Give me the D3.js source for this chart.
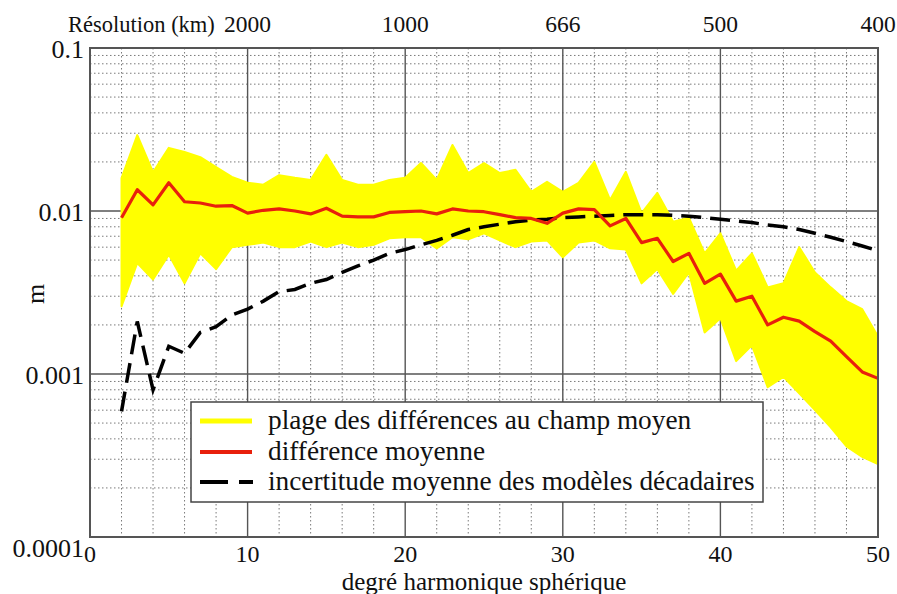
<!DOCTYPE html>
<html><head><meta charset="utf-8">
<script src="https://cdn.jsdelivr.net/npm/d3@7"></script>
</head><body style="margin:0;background:#fff">
<svg id="c" width="897" height="594" font-family="Liberation Serif, Tinos, serif" style="font-family:'Liberation Serif',Tinos,serif"></svg>
<script>
// ---------- data ----------
const degrees = [2,3,4,5,6,7,8,9,10,11,12,13,14,15,16,17,18,19,20,21,22,23,24,25,26,
  27,28,29,30,31,32,33,34,35,36,37,38,39,40,41,42,43,44,45,46,47,48,49,50];
// upper envelope of the range of differences to the mean field (m)
const upperBound = [0.0159,0.0292,0.0173,0.0244,0.0230,0.0214,0.0186,0.0162,0.0149,0.0145,
  0.0166,0.0160,0.0155,0.0221,0.0155,0.0145,0.0145,0.0155,0.0160,0.0197,0.0155,0.0254,
  0.0171,0.0197,0.0171,0.0179,0.0131,0.0151,0.0131,0.0149,0.0200,0.0117,0.0174,0.0097,
  0.0129,0.0086,0.0091,0.0055,0.0073,0.0043,0.0055,0.0034,0.0036,0.0060,0.0042,0.0034,
  0.0028,0.0025,0.0017];
// lower envelope
const lowerBound = [0.0026,0.0048,0.0038,0.0054,0.0036,0.0055,0.0044,0.0060,0.0062,0.0064,
  0.0060,0.0060,0.0065,0.0060,0.0064,0.0060,0.0062,0.0068,0.0069,0.0069,0.0059,0.0069,
  0.0067,0.0073,0.0066,0.0060,0.0065,0.0066,0.0052,0.0064,0.0066,0.0059,0.0058,0.0036,
  0.0044,0.0031,0.0042,0.0018,0.0022,0.0012,0.0015,0.00083,0.00096,0.00076,0.00060,
  0.00047,0.00036,0.00031,0.00028];
// mean difference
const meanDifference = [0.0091,0.0135,0.0109,0.0149,0.0114,0.0112,0.0107,0.0108,0.0097,
  0.0101,0.0103,0.0100,0.0096,0.0104,0.0093,0.0092,0.0092,0.0098,0.0099,0.0100,0.0096,
  0.0103,0.0100,0.0099,0.0095,0.0091,0.0090,0.0084,0.0097,0.0103,0.0102,0.0081,0.0090,
  0.0064,0.0068,0.0049,0.0055,0.0036,0.0041,0.0028,0.0030,0.0020,0.00223,0.00211,
  0.00182,0.00159,0.00128,0.00103,0.00094];
// mean uncertainty of the decadal models
const decadalUncertainty = [0.00059,0.0021,0.00080,0.00148,0.00134,0.0018,0.00195,0.0023,
  0.0025,0.0028,0.0032,0.0033,0.0036,0.0038,0.0042,0.0046,0.0050,0.0055,0.0058,0.0062,
  0.0066,0.0071,0.0077,0.0080,0.0083,0.0086,0.0088,0.0089,0.0091,0.0092,0.0093,0.0094,
  0.0095,0.0095,0.0095,0.0094,0.0093,0.0091,0.0089,0.0087,0.0085,0.0082,0.0080,0.0077,
  0.0073,0.0069,0.0065,0.0061,0.0057];

const xTicks = [0,10,20,30,40,50];
const yTicks = [0.1,0.01,0.001,0.0001];
const yTickLabels = ["0.1","0.01","0.001","0.0001"];
const topTickDegrees = [10,20,30,40,50];
const topTickLabels = ["2000","1000","666","500","400"];
const topAxisTitle = "Résolution (km)";
const xAxisTitle = "degré harmonique sphérique";
const yAxisTitle = "m";
const legendLabels = ["plage des différences au champ moyen","différence moyenne",
  "incertitude moyenne des modèles décadaires"];

// ---------- layout ----------
const svg = d3.select("#c");
const x = d3.scaleLinear().domain([0,50]).range([90,878]);
const y = d3.scaleLog().domain([1e-4,0.1]).range([537,48]);
const X0 = x.range()[0], X1 = x.range()[1], Y0 = y.range()[1], Y1 = y.range()[0];

function txt(sel){
  return sel.attr("font-family","Liberation Serif")
            .style("font-family","'Liberation Serif', Tinos, serif")
            .attr("fill","#111");
}

// grid
const g = svg.append("g");
const minorX = d3.range(0,51,2).filter(d => d % 10 !== 0);
const minorY = [];
[-4,-3,-2].forEach(e => { for (let k=2;k<=9;k++) minorY.push(k*Math.pow(10,e)); });
g.selectAll(".mx").data(minorX).join("line")
  .attr("x1",d=>x(d)).attr("x2",d=>x(d)).attr("y1",Y0).attr("y2",Y1)
  .attr("stroke","#7a7a7a").attr("stroke-width",1).attr("stroke-dasharray","1.5,2.5");
g.selectAll(".my").data(minorY).join("line")
  .attr("x1",X0).attr("x2",X1).attr("y1",d=>y(d)).attr("y2",d=>y(d))
  .attr("stroke","#7a7a7a").attr("stroke-width",1).attr("stroke-dasharray","1.5,2.5");
g.selectAll(".Mx").data([10,20,30,40]).join("line")
  .attr("x1",d=>x(d)).attr("x2",d=>x(d)).attr("y1",Y0).attr("y2",Y1)
  .attr("stroke","#555").attr("stroke-width",1.4);
g.selectAll(".My").data([0.01,0.001]).join("line")
  .attr("x1",X0).attr("x2",X1).attr("y1",d=>y(d)).attr("y2",d=>y(d))
  .attr("stroke","#555").attr("stroke-width",1.4);

// yellow band
const band = degrees.map((d,i)=>({d, lo:lowerBound[i], hi:upperBound[i]}));
svg.append("path").datum(band)
  .attr("d", d3.area().x(p=>x(p.d)).y0(p=>y(p.lo)).y1(p=>y(p.hi)))
  .attr("fill","#ffff00").attr("stroke","#ffff00").attr("stroke-width",2)
  .attr("stroke-linejoin","round");

// dashed uncertainty line
svg.append("path").datum(degrees.map((d,i)=>[d,decadalUncertainty[i]]))
  .attr("d", d3.line().x(p=>x(p[0])).y(p=>y(p[1])))
  .attr("fill","none").attr("stroke","#000").attr("stroke-width",3.5)
  .attr("stroke-dasharray","20,9");

// red mean line
svg.append("path").datum(degrees.map((d,i)=>[d,meanDifference[i]]))
  .attr("d", d3.line().x(p=>x(p[0])).y(p=>y(p[1])))
  .attr("fill","none").attr("stroke","#e8200c").attr("stroke-width",3.2)
  .attr("stroke-linejoin","round");

// frame
svg.append("rect").attr("x",X0).attr("y",Y0).attr("width",X1-X0).attr("height",Y1-Y0)
  .attr("fill","none").attr("stroke","#555").attr("stroke-width",2);

// bottom tick labels
txt(svg.selectAll(".xt").data(xTicks).join("text"))
  .attr("x",d=>x(d)).attr("y",561.5).attr("text-anchor","middle")
  .attr("font-size",24).text(d=>d);
txt(svg.append("text")).attr("x",(X0+X1)/2).attr("y",589.5).attr("text-anchor","middle")
  .attr("font-size",25).text(xAxisTitle);

// left tick labels
txt(svg.selectAll(".yt").data(yTicks).join("text"))
  .attr("x",84).attr("y",(d,i)=>y(d)+(i===yTicks.length-1?20:10))
  .attr("text-anchor","end").attr("font-size",26).text((d,i)=>yTickLabels[i]);
txt(svg.append("text")).attr("transform","translate(44,294) rotate(-90)")
  .attr("text-anchor","middle").attr("font-size",26).text(yAxisTitle);

// top axis
txt(svg.selectAll(".tt").data(topTickDegrees).join("text"))
  .attr("x",d=>x(d)).attr("y",32).attr("text-anchor","middle")
  .attr("font-size",23.5).text((d,i)=>topTickLabels[i]);
txt(svg.append("text")).attr("x",68).attr("y",32).attr("font-size",22.5).text(topAxisTitle);

// legend
const lg = svg.append("g");
lg.append("rect").attr("x",191).attr("y",402).attr("width",572).attr("height",100)
  .attr("fill","#fff").attr("stroke","#444").attr("stroke-width",1.5);
const ly = [421,452,482];
lg.append("line").attr("x1",200).attr("x2",252).attr("y1",ly[0]).attr("y2",ly[0])
  .attr("stroke","#ffff00").attr("stroke-width",5);
lg.append("line").attr("x1",200).attr("x2",252).attr("y1",ly[1]).attr("y2",ly[1])
  .attr("stroke","#e8200c").attr("stroke-width",4);
lg.append("line").attr("x1",200).attr("x2",253).attr("y1",ly[2]).attr("y2",ly[2])
  .attr("stroke","#000").attr("stroke-width",4).attr("stroke-dasharray","28,11");
txt(lg.selectAll(".lt").data(legendLabels).join("text"))
  .attr("x",268).attr("y",(d,i)=>ly[i]+8).attr("font-size",27.3).text(d=>d);
</script>
</body></html>
